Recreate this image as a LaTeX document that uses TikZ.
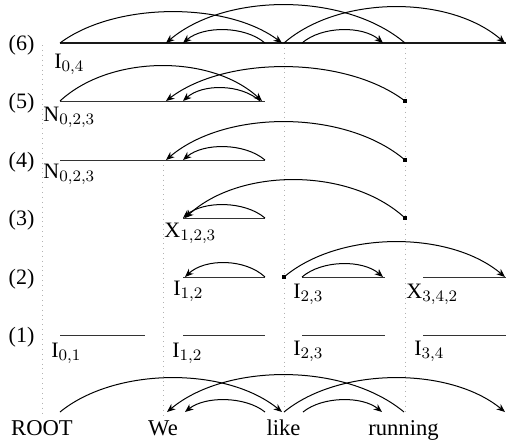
\documentclass[tikz,border=0pt]{standalone}
\usepackage{fontspec}
\setmainfont{Liberation Serif}
\usetikzlibrary{arrows.meta}
\newcommand\darc[5][arcstyle]{\draw[#1] (#2,#4) .. controls ({#2+0.25*(#3-#2)},{#4-1.3333*#5}) and ({#3-0.25*(#3-#2)},{#4-1.3333*#5}) .. (#3,#4);}
\begin{document}
\begin{tikzpicture}[x=0.5pt,y=-0.5pt,
  arcstyle/.style={line width=0.5pt,-{Stealth[length=4.2pt,width=3.4pt,inset=1.3pt]}},
  seg/.style={line width=0.5pt,black!80},
  guide/.style={gray!60,dotted,line width=0.45pt},
  sq/.style={fill=black,inner sep=0pt,minimum size=2.2pt},
  rowlbl/.style={anchor=base,inner sep=0pt,font=\fontsize{11}{13}\selectfont},
  lbl/.style={anchor=base west,inner sep=0pt,font=\fontsize{11}{13}\selectfont},
  word/.style={anchor=base,inner sep=0pt,font=\fontsize{11.3}{13}\selectfont}]
\useasboundingbox (0,0) rectangle (524,445);
% guides
\draw[guide] (42,45) -- (42,416);
\draw[guide] (163,160) -- (163,416);
\draw[guide] (284,43) -- (284,412);
\draw[guide] (405,43) -- (405,412);
% row labels
\node[rowlbl] (r6) at (21.5,50) {(6)};
\node[rowlbl] (r5) at (21.5,108) {(5)};
\node[rowlbl] (r4) at (21.5,167) {(4)};
\node[rowlbl] (r3) at (21.5,225) {(3)};
\node[rowlbl] (r2) at (21.5,284) {(2)};
\node[rowlbl] (r1) at (21.5,342) {(1)};
% row 6
\draw[seg,black!90,line width=0.55pt] (60,43) -- (506,43);
\darc{60}{282}{43}{31}
\darc{405}{166}{43}{38}
\darc{265}{183}{43}{13}
\darc{284}{505}{43}{36}
\darc{302}{383}{43}{13}
\node[lbl] (l6) at (54,68) {I$_{0,4}$};
% row 5
\draw[seg] (60,101) -- (265,101);
\node[sq] (s5) at (405,101) {};
\darc{60}{262}{101}{35}
\darc{405}{166}{101}{34}
\darc{260}{183}{101}{13}
\node[lbl] (l5) at (43,121) {N$_{0,2,3}$};
% row 4
\draw[seg] (60,160) -- (265,160);
\node[sq] (s4) at (405,160) {};
\darc{405}{166}{160}{38}
\darc{265}{183}{160}{13}
\node[lbl] (l4) at (43,178) {N$_{0,2,3}$};
% row 3
\draw[seg] (183,218) -- (265,218);
\node[sq] (s3) at (405,218) {};
\darc{405}{185}{218}{38}
\darc{265}{183}{218}{13}
\node[lbl] (l3) at (164,237) {X$_{1,2,3}$};
% row 2
\draw[seg] (183,277) -- (265,277);
\draw[seg] (302,277) -- (385,277);
\draw[seg] (423,277) -- (506,277);
\node[sq] (s2) at (284,277) {};
\darc{265}{185}{277}{14}
\darc{284}{505}{277}{35}
\darc{302}{383}{277}{13}
\node[lbl] (l2a) at (173,295) {I$_{1,2}$};
\node[lbl] (l2b) at (293,298) {I$_{2,3}$};
\node[lbl] (l2c) at (406,298) {X$_{3,4,2}$};
% row 1
\draw[seg] (60,335) -- (145,335);
\draw[seg] (183,335) -- (265,335);
\draw[seg] (302,335) -- (385,335);
\draw[seg] (423,335) -- (506,335);
\node[lbl] (l1a) at (51,357) {I$_{0,1}$};
\node[lbl] (l1b) at (172,357) {I$_{1,2}$};
\node[lbl] (l1c) at (293,355) {I$_{2,3}$};
\node[lbl] (l1d) at (414,355) {I$_{3,4}$};
% sentence
\darc{60}{282}{412}{34}
\darc{404}{167}{412}{37}
\darc{265}{185}{412}{12}
\darc{284}{505}{412}{34}
\darc{303}{382}{412}{12}
\node[word] (w0) at (42,435) {ROOT};
\node[word] (w1) at (163,435) {We};
\node[word] (w2) at (283.5,435) {like};
\node[word] (w3) at (403.5,435) {running};
\end{tikzpicture}
\end{document}
